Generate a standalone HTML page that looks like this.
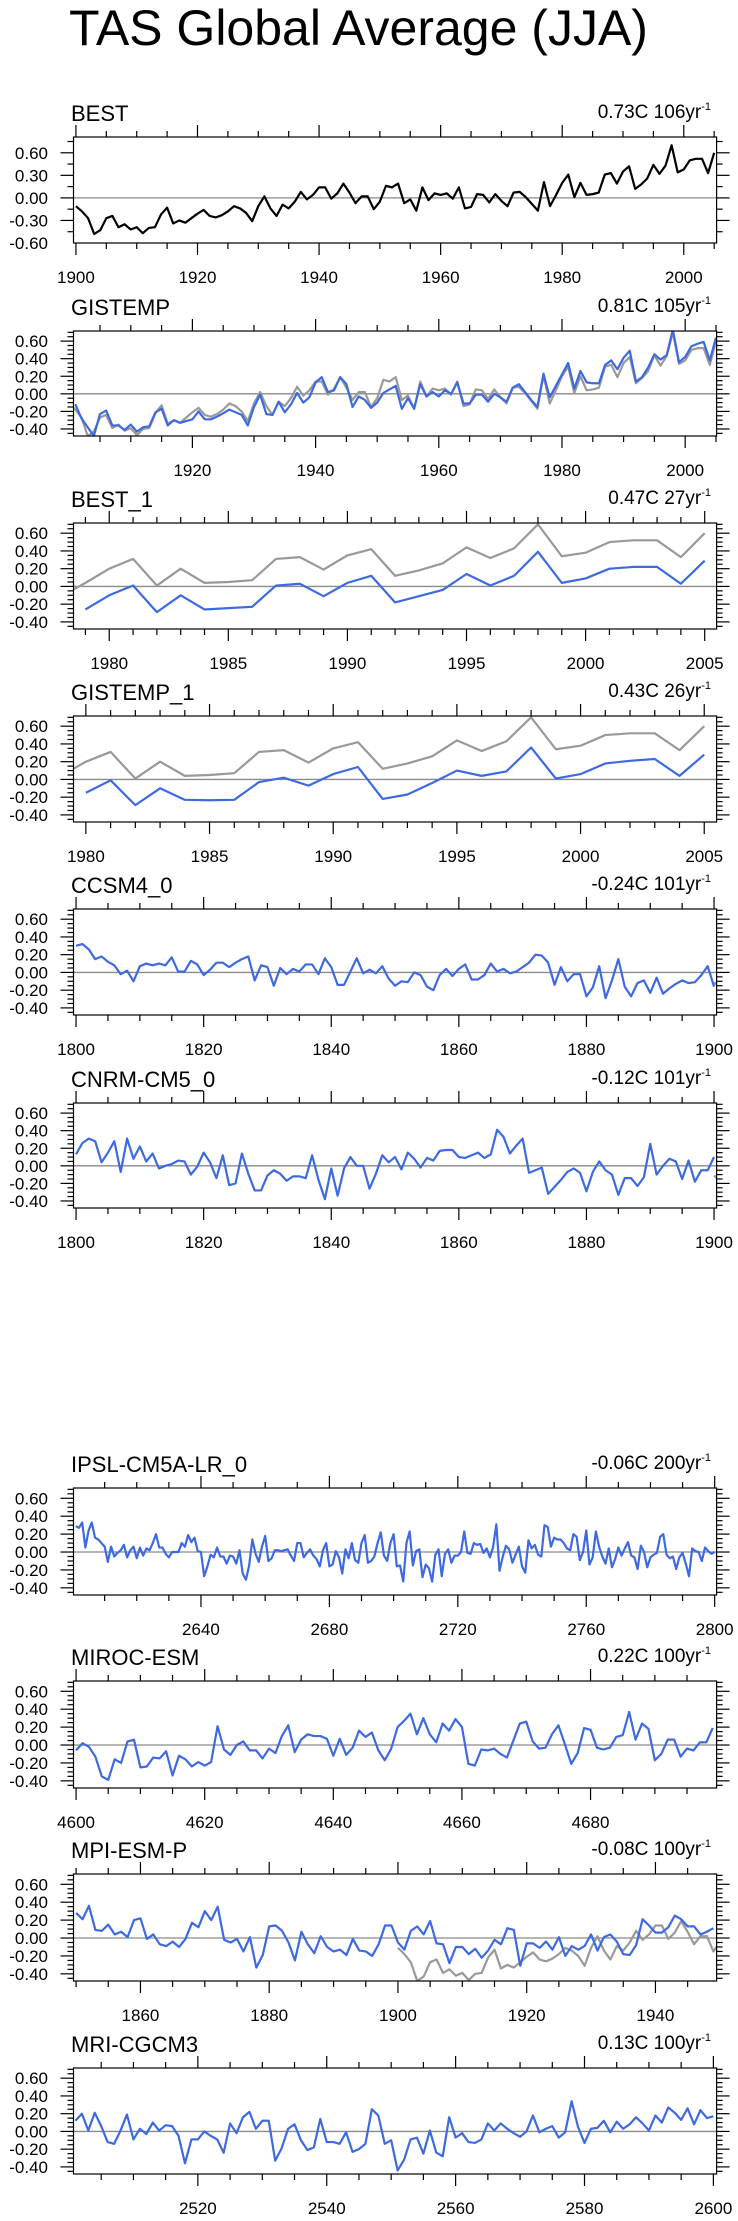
<!DOCTYPE html>
<html><head><meta charset="utf-8"><title>TAS Global Average (JJA)</title>
<style>html,body{margin:0;padding:0;background:#fff}svg{display:block}text{font-family:"Liberation Sans",Arial,sans-serif}</style>
</head><body>
<svg id="chart" width="738" height="2221" viewBox="0 0 738 2221" xmlns="http://www.w3.org/2000/svg">
<rect x="0" y="0" width="738" height="2221" fill="#fff"/>
<text x="69" y="45" font-size="50">TAS Global Average (JJA)</text>
</svg>
<script>
// ---- data ----
const bestStart = 1900;
const bestVals = [-0.11,-0.18,-0.27,-0.48,-0.43,-0.27,-0.24,-0.39,-0.35,-0.42,
-0.39,-0.47,-0.40,-0.39,-0.22,-0.13,-0.34,-0.30,-0.33,-0.27,
-0.21,-0.16,-0.24,-0.26,-0.23,-0.18,-0.11,-0.14,-0.20,-0.31,
-0.11,0.02,-0.14,-0.24,-0.09,-0.14,-0.05,0.08,-0.02,0.04,
0.14,0.14,-0.01,0.06,0.19,0.07,-0.07,0.02,0.02,-0.15,
-0.05,0.16,0.14,0.19,-0.07,-0.02,-0.17,0.14,-0.03,0.06,
0.04,0.06,-0.01,0.14,-0.14,-0.12,0.05,0.04,-0.06,0.05,
-0.04,-0.11,0.07,0.08,0.01,-0.08,-0.17,0.21,-0.11,0.04,
0.20,0.31,0.01,0.20,0.04,0.05,0.07,0.31,0.33,0.19,
0.35,0.42,0.12,0.18,0.26,0.44,0.32,0.43,0.70,0.34,
0.38,0.50,0.52,0.52,0.33,0.60];
const gistempStart = 1901;
const gistempVals = [-0.12,-0.28,-0.38,-0.48,-0.23,-0.19,-0.36,-0.36,-0.41,
-0.35,-0.43,-0.38,-0.37,-0.21,-0.17,-0.36,-0.30,-0.33,-0.31,
-0.29,-0.20,-0.29,-0.29,-0.26,-0.22,-0.18,-0.21,-0.24,-0.36,
-0.15,-0.01,-0.23,-0.24,-0.09,-0.21,-0.12,0.01,-0.10,-0.04,
0.13,0.19,0.02,0.04,0.19,0.11,-0.15,-0.03,-0.07,-0.16,
-0.10,0.01,0.05,0.09,-0.17,-0.05,-0.17,0.11,-0.03,0.02,
-0.03,0.04,0.00,0.13,-0.11,-0.11,-0.01,-0.01,-0.09,0.00,
-0.04,-0.09,0.07,0.11,0.02,-0.07,-0.15,0.23,-0.04,0.09,
0.22,0.35,0.06,0.26,0.13,0.12,0.12,0.33,0.38,0.28,
0.41,0.49,0.14,0.19,0.30,0.45,0.39,0.44,0.73,0.36,
0.42,0.54,0.57,0.59,0.38,0.64];
const best1Start = 1979;
const best1Vals = [-0.26,-0.10,0.01,-0.29,-0.10,-0.26,-0.245,-0.23,0.01,0.03,-0.11,0.04,0.12,-0.18,-0.11,-0.04,0.14,0.01,0.12,0.39,0.04,0.09,0.20,0.22,0.22,0.03,0.29];
const gistemp1Start = 1980;
const gistemp1Vals = [-0.15,-0.01,-0.29,-0.10,-0.23,-0.235,-0.23,-0.03,0.02,-0.07,0.06,0.14,-0.22,-0.17,-0.04,0.10,0.04,0.09,0.36,0.01,0.06,0.18,0.21,0.23,0.04,0.28];
const ccsmStart = 1800;
const ccsmVals = [0.30,0.32,0.26,0.15,0.18,0.12,0.08,-0.02,0.02,-0.10,
0.07,0.10,0.08,0.10,0.08,0.17,0.01,0.01,0.13,0.09,
-0.03,0.03,0.11,0.11,0.06,0.11,0.15,0.18,-0.09,0.08,
0.06,-0.15,0.05,-0.02,0.04,0.01,0.09,0.09,-0.02,0.16,
0.06,-0.14,-0.14,0.01,0.16,-0.01,0.03,-0.01,0.07,-0.07,
-0.15,-0.10,-0.11,0.00,-0.03,-0.16,-0.20,-0.03,0.04,-0.04,
0.04,0.09,-0.08,-0.08,-0.03,0.10,0.01,0.04,-0.01,0.01,
0.06,0.11,0.20,0.19,0.11,-0.14,0.06,-0.10,-0.02,-0.02,
-0.27,-0.17,0.07,-0.29,-0.09,0.15,-0.16,-0.27,-0.12,-0.09,
-0.23,-0.06,-0.24,-0.18,-0.13,-0.09,-0.12,-0.11,-0.03,0.07,
-0.16];
const cnrmStart = 1800;
const cnrmVals = [0.13,0.26,0.31,0.28,0.04,0.15,0.28,-0.07,0.31,0.08,
0.22,0.05,0.14,-0.03,0.00,0.02,0.06,0.05,-0.10,-0.01,
0.15,0.04,-0.14,0.12,-0.22,-0.20,0.14,-0.09,-0.28,-0.28,
-0.11,-0.05,-0.09,-0.17,-0.12,-0.12,-0.14,0.12,-0.16,-0.38,
-0.03,-0.34,-0.03,0.10,0.00,0.00,-0.26,-0.09,0.12,0.04,
0.10,-0.04,0.15,0.08,-0.02,0.09,0.06,0.17,0.18,0.18,
0.10,0.09,0.12,0.15,0.09,0.13,0.41,0.33,0.14,0.23,
0.31,-0.08,-0.05,-0.02,-0.32,-0.24,-0.16,-0.07,-0.03,-0.08,
-0.29,-0.07,0.05,-0.05,-0.10,-0.33,-0.14,-0.14,-0.23,-0.13,
0.25,-0.10,0.00,0.08,0.05,-0.15,0.06,-0.18,-0.05,-0.05,
0.10];
const ipslStart = 2601;
const ipslVals = [0.29,0.27,0.33,0.05,0.24,0.33,0.16,0.14,0.10,0.06,
-0.11,0.06,-0.05,-0.01,0.02,0.08,-0.06,0.02,0.06,-0.07,
0.05,-0.04,0.04,0.02,0.10,0.20,0.05,0.05,-0.02,-0.06,
0.00,0.00,0.00,0.10,0.06,0.19,0.11,0.16,0.01,0.00,
-0.27,-0.16,-0.03,-0.06,0.05,-0.05,-0.05,-0.13,-0.04,-0.05,
-0.13,0.02,-0.24,-0.31,-0.15,0.14,-0.02,-0.11,0.06,0.18,
-0.10,-0.07,0.02,0.02,0.01,0.02,0.03,-0.04,-0.10,0.10,
0.10,-0.06,-0.01,0.03,-0.04,-0.08,-0.16,0.02,0.10,-0.16,
-0.14,0.01,-0.06,-0.24,0.03,-0.07,0.10,-0.09,-0.12,0.10,
0.19,-0.12,-0.10,-0.05,0.10,0.22,-0.04,-0.10,0.10,0.20,
-0.16,-0.15,-0.33,0.10,0.23,-0.15,0.01,0.03,-0.28,-0.14,
-0.18,-0.33,-0.03,0.03,-0.27,-0.02,0.03,-0.12,-0.04,-0.04,
0.00,0.23,-0.01,-0.02,0.10,0.08,0.09,-0.01,0.04,-0.06,
0.06,0.31,-0.21,-0.05,0.07,0.03,-0.12,-0.03,0.06,-0.16,
-0.23,0.13,0.04,0.08,-0.03,-0.05,0.30,0.28,0.06,0.16,
0.14,0.14,0.10,0.04,0.02,0.20,0.17,-0.09,0.00,0.24,
-0.14,-0.06,0.23,0.06,-0.05,-0.13,0.04,-0.17,-0.08,0.05,
-0.04,0.04,0.11,-0.04,-0.06,-0.19,0.07,0.00,-0.17,-0.06,
-0.03,-0.01,0.17,0.20,-0.03,-0.07,-0.05,-0.19,-0.06,-0.01,
-0.13,-0.27,0.04,0.01,0.00,-0.10,0.05,0.01,-0.02,0.00];
const mirocStart = 4600;
const mirocVals = [-0.06,0.02,-0.02,-0.13,-0.35,-0.39,-0.16,-0.20,0.04,0.06,
-0.25,-0.24,-0.14,-0.15,-0.07,-0.34,-0.12,-0.16,-0.24,-0.19,
-0.23,-0.19,0.21,-0.05,-0.11,0.00,0.04,-0.06,-0.06,-0.15,
-0.04,-0.09,0.10,0.22,-0.08,0.06,0.12,0.10,0.10,0.07,
-0.12,0.07,-0.11,-0.03,0.16,0.09,0.14,-0.06,-0.17,-0.04,
0.20,0.27,0.35,0.12,0.30,0.12,0.03,0.24,0.16,0.29,
0.20,-0.21,-0.23,-0.05,-0.06,-0.04,-0.10,-0.14,0.05,0.24,
0.26,0.04,-0.04,-0.03,0.12,0.22,0.01,-0.21,-0.09,0.19,
0.17,-0.03,-0.05,-0.03,0.09,0.11,0.37,0.06,0.24,0.18,
-0.17,-0.10,0.06,0.06,-0.13,-0.04,-0.06,0.03,0.03,0.19];
const mpiStart = 1850;
const mpiVals = [0.28,0.21,0.36,0.09,0.08,0.15,0.04,0.07,0.01,0.20,
0.22,-0.01,0.04,-0.07,-0.09,-0.04,-0.10,-0.01,0.17,0.12,
0.30,0.20,0.35,-0.02,-0.05,-0.01,-0.15,0.01,-0.33,-0.19,
0.13,0.14,0.08,-0.05,-0.25,0.07,-0.07,-0.17,0.02,-0.10,
-0.15,-0.13,-0.19,-0.01,-0.14,-0.15,-0.20,-0.07,0.14,0.14,
-0.05,-0.13,0.08,0.13,0.04,0.19,-0.06,-0.07,-0.28,-0.10,
-0.10,-0.18,-0.12,-0.22,-0.14,-0.02,-0.07,0.11,0.09,-0.31,
-0.06,-0.06,-0.11,-0.04,-0.13,0.01,-0.20,-0.09,-0.13,-0.09,
0.04,-0.14,0.01,0.04,-0.04,-0.18,-0.19,-0.08,0.21,0.14,
0.06,0.06,0.12,0.25,0.21,0.13,0.13,0.04,0.07,0.11];
const mriStart = 2501;
const mriVals = [0.12,0.20,0.01,0.21,0.06,-0.12,-0.14,0.01,0.19,-0.09,
0.03,-0.03,0.10,0.01,0.07,0.06,-0.05,-0.36,-0.09,-0.09,
0.00,-0.05,-0.09,-0.24,0.09,-0.02,0.16,0.22,0.03,0.12,
0.12,-0.33,-0.19,0.03,0.08,-0.10,-0.21,-0.18,0.14,-0.12,
-0.12,-0.14,-0.01,-0.23,-0.20,-0.14,0.25,0.18,-0.14,-0.10,
-0.44,-0.32,-0.09,-0.07,-0.25,0.01,-0.24,-0.28,0.16,-0.07,
-0.02,-0.12,-0.13,-0.09,0.09,0.01,0.09,0.03,-0.02,-0.06,
0.00,0.18,-0.01,0.03,0.06,-0.07,-0.01,0.34,0.05,-0.13,
0.03,0.04,0.12,-0.01,0.11,0.03,0.08,0.16,0.09,0.01,
0.18,0.10,0.27,0.21,0.13,0.26,0.08,0.24,0.15,0.17];
const panelNames = ["BEST","GISTEMP","BEST_1","GISTEMP_1","CCSM4_0","CNRM-CM5_0","IPSL-CM5A-LR_0","MIROC-ESM","MPI-ESM-P","MRI-CGCM3"];
const trendLabels = ["0.73C 106yr","0.81C 105yr","0.47C 27yr","0.43C 26yr","-0.24C 101yr","-0.12C 101yr","-0.06C 200yr","0.22C 100yr","-0.08C 100yr","0.13C 100yr"];
const bestTicksY = [-0.6,-0.3,0,0.3,0.6];
const otherTicksY = [-0.4,-0.2,0,0.2,0.4,0.6];

// ---- layout ----
const NS = "http://www.w3.org/2000/svg";
const svg = document.getElementById("chart");
const L = 73.5, R = 716.6;
const panels = [
 {top:137, bot:243, xmin:1899.6, xmax:2005.4, ymin:-0.6, ymax:0.81, maj:20, min:5, yt:bestTicksY, ymin2:0.15, start:bestStart, vals:bestVals, color:"#000", grey:false},
 {top:331, bot:436, xmin:1900.7, xmax:2005.1, maj:20, min:5, start:gistempStart, vals:gistempVals},
 {top:523, bot:629, xmin:1978.5, xmax:2005.5, maj:5, min:1, start:best1Start, vals:best1Vals},
 {top:716, bot:822, xmin:1979.5, xmax:2005.5, maj:5, min:1, start:gistemp1Start, vals:gistemp1Vals},
 {top:909, bot:1015, xmin:1799.6, xmax:1900.4, maj:20, min:5, start:ccsmStart, vals:ccsmVals},
 {top:1103, bot:1208, xmin:1799.6, xmax:1900.4, maj:20, min:5, start:cnrmStart, vals:cnrmVals},
 {top:1488, bot:1595, xmin:2600.3, xmax:2800.6, maj:40, min:10, start:ipslStart, vals:ipslVals},
 {top:1681, bot:1788, xmin:4599.6, xmax:4699.6, maj:20, min:5, start:mirocStart, vals:mirocVals},
 {top:1874, bot:1981, xmin:1849.6, xmax:1949.5, maj:20, min:5, start:mpiStart, vals:mpiVals},
 {top:2068, bot:2174, xmin:2500.7, xmax:2600.5, maj:20, min:5, start:mriStart, vals:mriVals}
];

function mk(tag, attrs, parent){
  const e = document.createElementNS(NS, tag);
  for (const k in attrs) e.setAttribute(k, attrs[k]);
  (parent||svg).appendChild(e);
  return e;
}
function fmt(v){ return (v<0?"-":"") + Math.abs(v).toFixed(2); }

panels.forEach((p, idx) => {
  const ymin = p.ymin !== undefined ? p.ymin : -0.48;
  const ymax = p.ymax !== undefined ? p.ymax : 0.715;
  const yt = p.yt || otherTicksY;
  const ystep = p.ymin2 || 0.05;
  const sx = v => L + (v - p.xmin) / (p.xmax - p.xmin) * (R - L);
  const sy = v => p.bot - (v - ymin) / (ymax - ymin) * (p.bot - p.top);
  const slug = panelNames[idx].toLowerCase().replace(/_/g,"-");
  const g = mk("g", {});
  
  

  const title = mk("text", {x:71, y:p.top-16, "font-size":22}, g);
  title.textContent = panelNames[idx];
  
  

  const tr = mk("text", {x:711, y:p.top-19, "font-size":19, "text-anchor":"end"}, g);
  
  
  tr.appendChild(document.createTextNode(trendLabels[idx]));
  const sup = mk("tspan", {"font-size":11, dy:-8}, tr);
  sup.textContent = "-1";

  // clip
  const cp = mk("clipPath", {id:"clip"+idx}, g);
  mk("rect", {x:L, y:p.top, width:R-L, height:p.bot-p.top}, cp);

  // x ticks
  const tickG = mk("g", {stroke:"#000", "stroke-width":1.2}, g);
  
  
  for (let v = Math.ceil(p.xmin/p.min)*p.min; v <= p.xmax; v += p.min) {
    const major = Math.abs(v/p.maj - Math.round(v/p.maj)) < 1e-6;
    const len = major ? 12 : 6;
    const x = sx(v);
    mk("line", {x1:x, x2:x, y1:p.top, y2:p.top-len}, tickG);
    mk("line", {x1:x, x2:x, y1:p.bot, y2:p.bot+len}, tickG);
    if (major) {
      const t = mk("text", {x:x, y:p.bot+40, "font-size":17, "text-anchor":"middle", stroke:"none", fill:"#000"}, g);
      t.textContent = String(Math.round(v));
      
      
    }
  }
  // y ticks
  const yG = mk("g", {stroke:"#000", "stroke-width":1.2}, g);
  
  
  const n0 = Math.ceil((ymin+1e-9)/ystep), n1 = Math.floor((ymax-1e-9)/ystep);
  for (let n = n0; n <= n1; n++) {
    const v = n*ystep;
    const major = yt.some(t => Math.abs(t - v) < 1e-6);
    const len = major ? 13 : 6;
    const y = sy(v);
    mk("line", {x1:L, x2:L-len, y1:y, y2:y}, yG);
    mk("line", {x1:R, x2:R+len, y1:y, y2:y}, yG);
  }
  yt.forEach(v => {
    const t = mk("text", {x:48, y:sy(v)+6, "font-size":17, "text-anchor":"end"}, g);
    t.textContent = fmt(v);
    
    
  });

  // zero line
  const z = mk("line", {x1:L, x2:R, y1:sy(0), y2:sy(0), stroke:"#8a8a8a", "stroke-width":1.3}, g);
  
  

  const lines = mk("g", {"clip-path":"url(#clip"+idx+")"}, g);
  const pathOf = (start, vals) => vals.map((v,i) => (i?"L":"M") + sx(start+i).toFixed(2) + "," + sy(v).toFixed(2)).join("");
  if (p.grey !== false) {
    const gl = mk("path", {d:pathOf(bestStart, bestVals), fill:"none", stroke:"#999", "stroke-width":2.2, "stroke-linejoin":"round"}, lines);
    
    
  }
  const ml = mk("path", {d:pathOf(p.start, p.vals), fill:"none", stroke:p.color||"#3e6ae1", "stroke-width":2.2, "stroke-linejoin":"round"}, lines);
  
  

  const box = mk("rect", {x:L, y:p.top, width:R-L, height:p.bot-p.top, fill:"none", stroke:"#000", "stroke-width":1.2}, g);
  
  
});
</script>
</body></html>
